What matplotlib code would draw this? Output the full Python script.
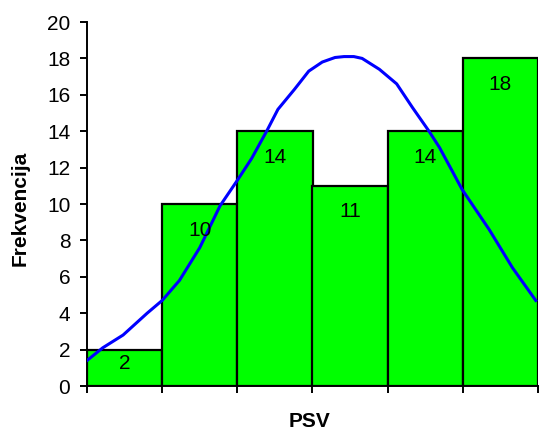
import matplotlib
matplotlib.use("Agg")
from matplotlib import pyplot as plt

plt.rcParams["font.family"] = ["Liberation Sans", "DejaVu Sans"]

# histogram frequencies (6 classes)
freq = [2, 10, 14, 11, 14, 18]
bins = [0, 1, 2, 3, 4, 5]

# fitted curve (x in bar units)
curve_x = [-0.5, -0.29, -0.02, 0.30, 0.50, 0.73, 1.00, 1.27, 1.50, 1.69,
           1.89, 2.04, 2.26, 2.45, 2.63, 2.80, 2.92, 3.05, 3.16, 3.39,
           3.62, 3.83, 4.05, 4.19, 4.36, 4.49, 4.85, 5.16, 5.47]
curve_y = [1.4, 2.1, 2.8, 4.0, 4.7, 5.8, 7.6, 9.9, 11.3, 12.5,
           14.0, 15.2, 16.3, 17.3, 17.8, 18.05, 18.1, 18.1, 18.0, 17.4,
           16.6, 15.3, 14.0, 13.1, 11.8, 10.8, 8.6, 6.5, 4.7]

fig = plt.figure(figsize=(5.39, 4.34), dpi=100)
ax = fig.add_axes([87 / 539, 48 / 434, 451 / 539, 364 / 434])

ax.bar(bins, freq, width=1.0, color="#00ff00", edgecolor="black", linewidth=1.6, zorder=2)
ax.plot(curve_x, curve_y, color="#0000ff", linewidth=2.2, zorder=3)

for x, v in zip(bins, freq):
    off = -3 if v < 4 else -12
    ax.annotate(str(v), (x, v), xytext=(0, off), textcoords="offset points",
                ha="center", va="top", fontsize=15, zorder=4)

ax.set_xlim(-0.5, 5.5)
ax.set_ylim(0, 20)
ax.set_yticks(range(0, 21, 2))
ax.set_xticks([b - 0.5 for b in bins] + [5.5])
ax.set_xticklabels([])
ax.tick_params(axis="both", length=5, width=1.4, direction="out", labelsize=15, pad=7)

for s in ["top", "right"]:
    ax.spines[s].set_visible(False)
for s in ["left", "bottom"]:
    ax.spines[s].set_linewidth(1.4)

ax.set_xlabel("PSV", fontsize=15, fontweight="bold")
ax.xaxis.set_label_coords(0.494, -0.072)
ax.set_ylabel("Frekvencija", fontsize=15, fontweight="bold")
ax.yaxis.set_label_coords(-0.128, 0.489)

fig.savefig("out.png", dpi=100)
